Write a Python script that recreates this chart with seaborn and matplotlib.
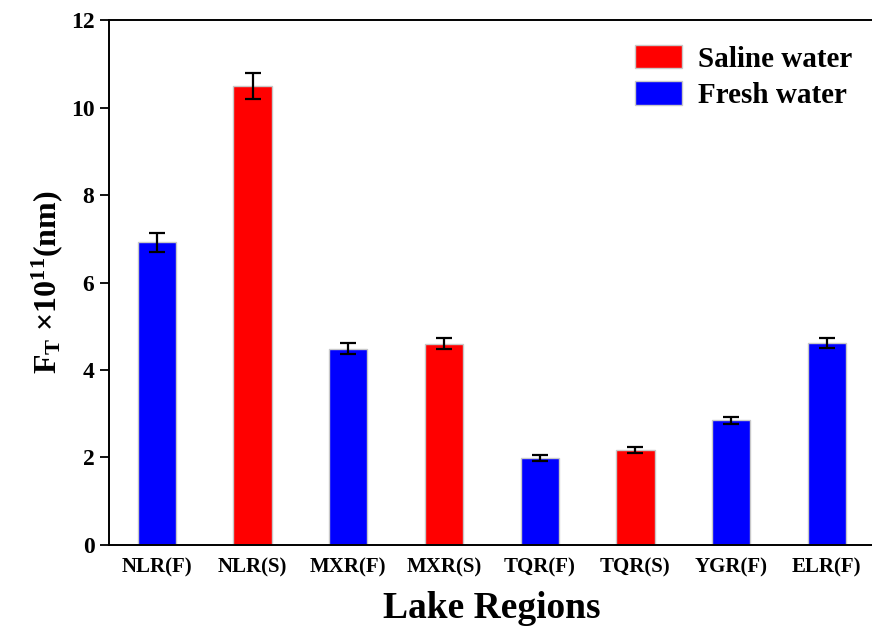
import matplotlib
matplotlib.use("Agg")
import matplotlib.pyplot as plt
import seaborn as sns
import pandas as pd

regions = ["NLR(F)", "NLR(S)", "MXR(F)", "MXR(S)", "TQR(F)", "TQR(S)", "YGR(F)", "ELR(F)"]
water_type = ["Fresh water", "Saline water", "Fresh water", "Saline water",
              "Fresh water", "Saline water", "Fresh water", "Fresh water"]
ft_values = [6.92, 10.50, 4.49, 4.60, 1.99, 2.17, 2.85, 4.62]
ft_errors = [0.22, 0.30, 0.12, 0.13, 0.06, 0.06, 0.08, 0.12]
yticks = [0, 2, 4, 6, 8, 10, 12]

df = pd.DataFrame({"Region": regions, "Type": water_type, "FT": ft_values})

sns.set_theme(style="ticks")
plt.rcParams["font.family"] = ["Liberation Serif", "DejaVu Serif"]
plt.rcParams["font.weight"] = "bold"
plt.rcParams["mathtext.fontset"] = "custom"
plt.rcParams["mathtext.rm"] = "Liberation Serif:bold"
plt.rcParams["mathtext.it"] = "Liberation Serif:bold"
plt.rcParams["mathtext.bf"] = "Liberation Serif:bold"
for key in ["text.color", "axes.labelcolor", "xtick.color", "ytick.color",
            "xtick.labelcolor", "ytick.labelcolor", "axes.edgecolor"]:
    plt.rcParams[key] = "black"

fig = plt.figure(figsize=(8.72, 6.30), dpi=100)
ax = fig.add_axes([0.125, 0.135, 0.878, 0.833])

sns.barplot(data=df, x="Region", y="FT", hue="Type",
            hue_order=["Saline water", "Fresh water"],
            palette={"Saline water": "#ff0000", "Fresh water": "#0000ff"},
            saturation=1, dodge=False, width=0.4, edgecolor="#c8c8c8",
            linewidth=1.0, ax=ax, legend=True)

ax.errorbar(range(len(regions)), ft_values, yerr=ft_errors, fmt="none",
            ecolor="black", elinewidth=1.6, capsize=6, capthick=1.6, zorder=5)

ax.set_xlim(-0.5, 7.5)
ax.set_ylim(0, 12)
ax.set_yticks(yticks)
ax.set_yticklabels([str(v) for v in yticks], fontsize=17, fontweight="bold")
ax.tick_params(axis="y", direction="out", length=6.5, width=1.3, pad=4)
ax.tick_params(axis="x", length=0, pad=9)
for lab in ax.get_xticklabels():
    lab.set_fontsize(15)
    lab.set_fontweight("bold")

ax.set_xlabel("Lake Regions", fontsize=27, fontweight="bold", labelpad=10)
ax.set_ylabel(r"$\mathrm{F}_{\mathrm{T}}$ ×10$^{\mathrm{11}}$(nm)",
              fontsize=23, fontweight="bold", labelpad=4)

for side in ["left", "bottom", "top", "right"]:
    ax.spines[side].set_visible(True)
    ax.spines[side].set_linewidth(1.4)
    ax.spines[side].set_color("black")

leg = ax.legend(loc="upper right", bbox_to_anchor=(1.005, 1.003), frameon=False,
                prop={"family": "Liberation Serif", "weight": "bold", "size": 21},
                handlelength=1.6, handleheight=0.85, handletextpad=0.55,
                labelspacing=0.3)

fig.savefig("out.png", dpi=100)
